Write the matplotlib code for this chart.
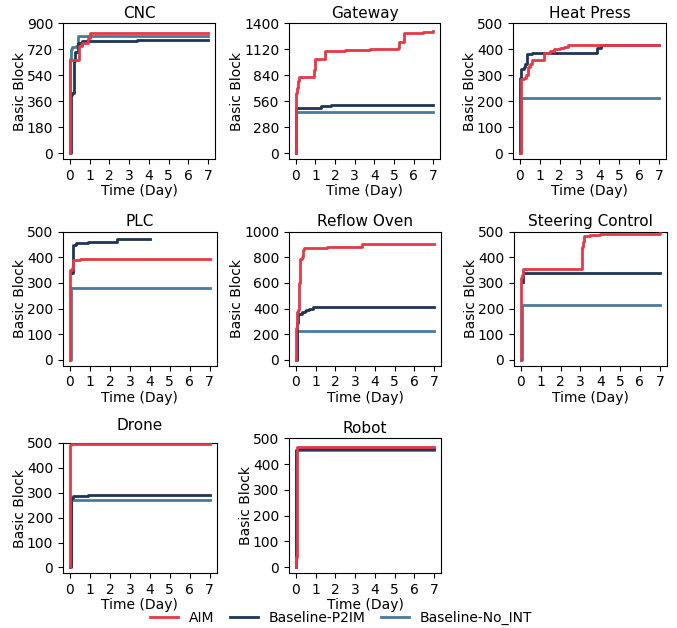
import matplotlib
matplotlib.use("Agg")
import matplotlib.pyplot as plt
from matplotlib.lines import Line2D

# ---------------- data: (time in days, basic blocks) step points ----------------
titles = ["CNC", "Gateway", "Heat Press", "PLC", "Reflow Oven",
          "Steering Control", "Drone", "Robot"]
y_tops = [900, 1400, 500, 500, 1000, 500, 500, 500]
series_names = ["AIM", "Baseline-P2IM", "Baseline-No_INT"]

cnc_aim = [(0, 0), (0.02, 645), (0.45, 740), (0.6, 760), (0.9, 800), (1.0, 830), (5.4, 833), (7, 833)]
cnc_p2im = [(0, 0), (0.05, 400), (0.12, 420), (0.2, 640), (0.27, 700), (0.4, 760), (0.6, 775), (3.4, 785), (7, 785)]
cnc_noint = [(0, 0), (0.02, 650), (0.05, 720), (0.12, 735), (0.3, 740), (0.4, 810), (7, 810)]

gw_aim = [(0, 0), (0.02, 650), (0.05, 700), (0.1, 780), (0.15, 820), (0.9, 900), (1.0, 1020), (1.5, 1100),
          (2.5, 1110), (3.8, 1120), (5.2, 1130), (5.25, 1200), (5.5, 1300), (6.5, 1310), (7, 1320)]
gw_p2im = [(0, 0), (0.02, 490), (1.3, 510), (1.8, 520), (7, 520)]
gw_noint = [(0, 0), (0.02, 440), (7, 440)]

hp_aim = [(0, 0), (0.03, 285), (0.2, 290), (0.3, 300), (0.4, 330), (0.5, 345), (0.6, 360), (1.2, 385),
          (1.5, 395), (1.7, 400), (2.0, 405), (2.2, 410), (2.4, 415), (7, 415)]
hp_p2im = [(0, 0), (0.02, 290), (0.05, 325), (0.2, 330), (0.25, 345), (0.35, 380), (0.6, 387),
           (3.9, 405), (4.1, 415), (7, 415)]
hp_noint = [(0, 0), (0.03, 212), (7, 212)]

plc_aim = [(0, 0), (0.02, 350), (0.1, 360), (0.15, 390), (0.5, 393), (7, 393)]
plc_p2im = [(0.1, 340), (0.15, 450), (0.3, 455), (0.9, 460), (2.35, 470), (4, 470)]
plc_noint = [(0, 0), (0.03, 280), (7, 280)]

ro_aim = [(0, 0), (0.02, 250), (0.05, 370), (0.1, 390), (0.15, 400), (0.18, 600), (0.2, 790), (0.3, 800),
          (0.35, 860), (0.4, 875), (1.6, 882), (3.35, 905), (7, 907)]
ro_p2im = [(0, 0), (0.05, 290), (0.1, 360), (0.3, 370), (0.45, 380), (0.5, 390), (0.65, 400), (0.85, 410), (7, 410)]
ro_noint = [(0, 0), (0.03, 228), (7, 228)]

sc_aim = [(0, 0), (0.02, 320), (0.05, 330), (0.1, 355), (3.1, 440), (3.15, 460), (3.2, 485), (3.5, 488),
          (4.0, 490), (4.6, 492), (7, 493)]
sc_p2im = [(0.1, 305), (0.12, 340), (7, 340)]
sc_noint = [(0, 0), (0.03, 215), (7, 215)]

dr_aim = [(0, 0), (0.02, 490), (0.05, 497), (7, 497)]
dr_p2im = [(0, 0), (0.05, 280), (0.15, 285), (0.9, 290), (2.0, 292), (7, 292)]
dr_noint = [(0, 0), (0.03, 272), (7, 272)]

rb_aim = [(0, 0), (0.02, 40), (0.08, 465), (7, 465)]
rb_p2im = [(0, 0), (0.01, 455), (0.1, 458), (7, 458)]
rb_noint = [(0, 0), (0.01, 455), (7, 455)]

all_data = [
    (cnc_aim, cnc_p2im, cnc_noint),
    (gw_aim, gw_p2im, gw_noint),
    (hp_aim, hp_p2im, hp_noint),
    (plc_aim, plc_p2im, plc_noint),
    (ro_aim, ro_p2im, ro_noint),
    (sc_aim, sc_p2im, sc_noint),
    (dr_aim, dr_p2im, dr_noint),
    (rb_aim, rb_p2im, rb_noint),
]

colors = ["#E63946", "#1D3557", "#457B9D"]
zorders = [4, 3, 2]

# ---------------- figure ----------------
W, H = 677, 628
fig = plt.figure(figsize=(W / 100, H / 100), dpi=100)

# axes boxes in pixels: left, top, right, bottom
boxes = [
    (63, 23.3, 215, 159),
    (289, 23.3, 440, 159),
    (513, 23.3, 666, 159),
    (63, 231.7, 216.7, 365.7),
    (289, 231.7, 441, 365.7),
    (514, 231.7, 666.7, 365.7),
    (63, 443, 216.7, 573),
    (289, 438.3, 441, 573),
]
title_pads = [4, 4, 4, 4, 4, 4, 9, 4]

for i, (title, top, data) in enumerate(zip(titles, y_tops, all_data)):
    l, t, r, b = boxes[i]
    ax = fig.add_axes([l / W, 1 - b / H, (r - l) / W, (b - t) / H])
    for k in (2, 1, 0):
        pts = data[k]
        tt = [p[0] for p in pts]
        vv = [p[1] for p in pts]
        ax.step(tt, vv, where="post", color=colors[k], lw=2, zorder=zorders[k])
    ax.set_xlim(-0.35, 7.35)
    ax.set_ylim(-0.045 * top, top)
    ax.set_xticks(range(0, 8))
    ax.set_yticks([top * j / 5 for j in range(6)])
    ax.set_yticklabels([f"{int(round(top * j / 5))}" for j in range(6)])
    ax.tick_params(labelsize=10)
    ax.set_title(title, fontsize=11, pad=title_pads[i])
    ax.set_xlabel("Time (Day)", fontsize=10, labelpad=1)
    ax.set_ylabel("Basic Block", fontsize=10, labelpad=0)

handles = [Line2D([0], [0], color=colors[k], lw=2) for k in range(3)]
fig.legend(handles, series_names, loc="lower center", ncol=3, frameon=False,
           bbox_to_anchor=(0.504, -0.015), fontsize=10, columnspacing=1.1)

fig.savefig("out.png", dpi=100)
